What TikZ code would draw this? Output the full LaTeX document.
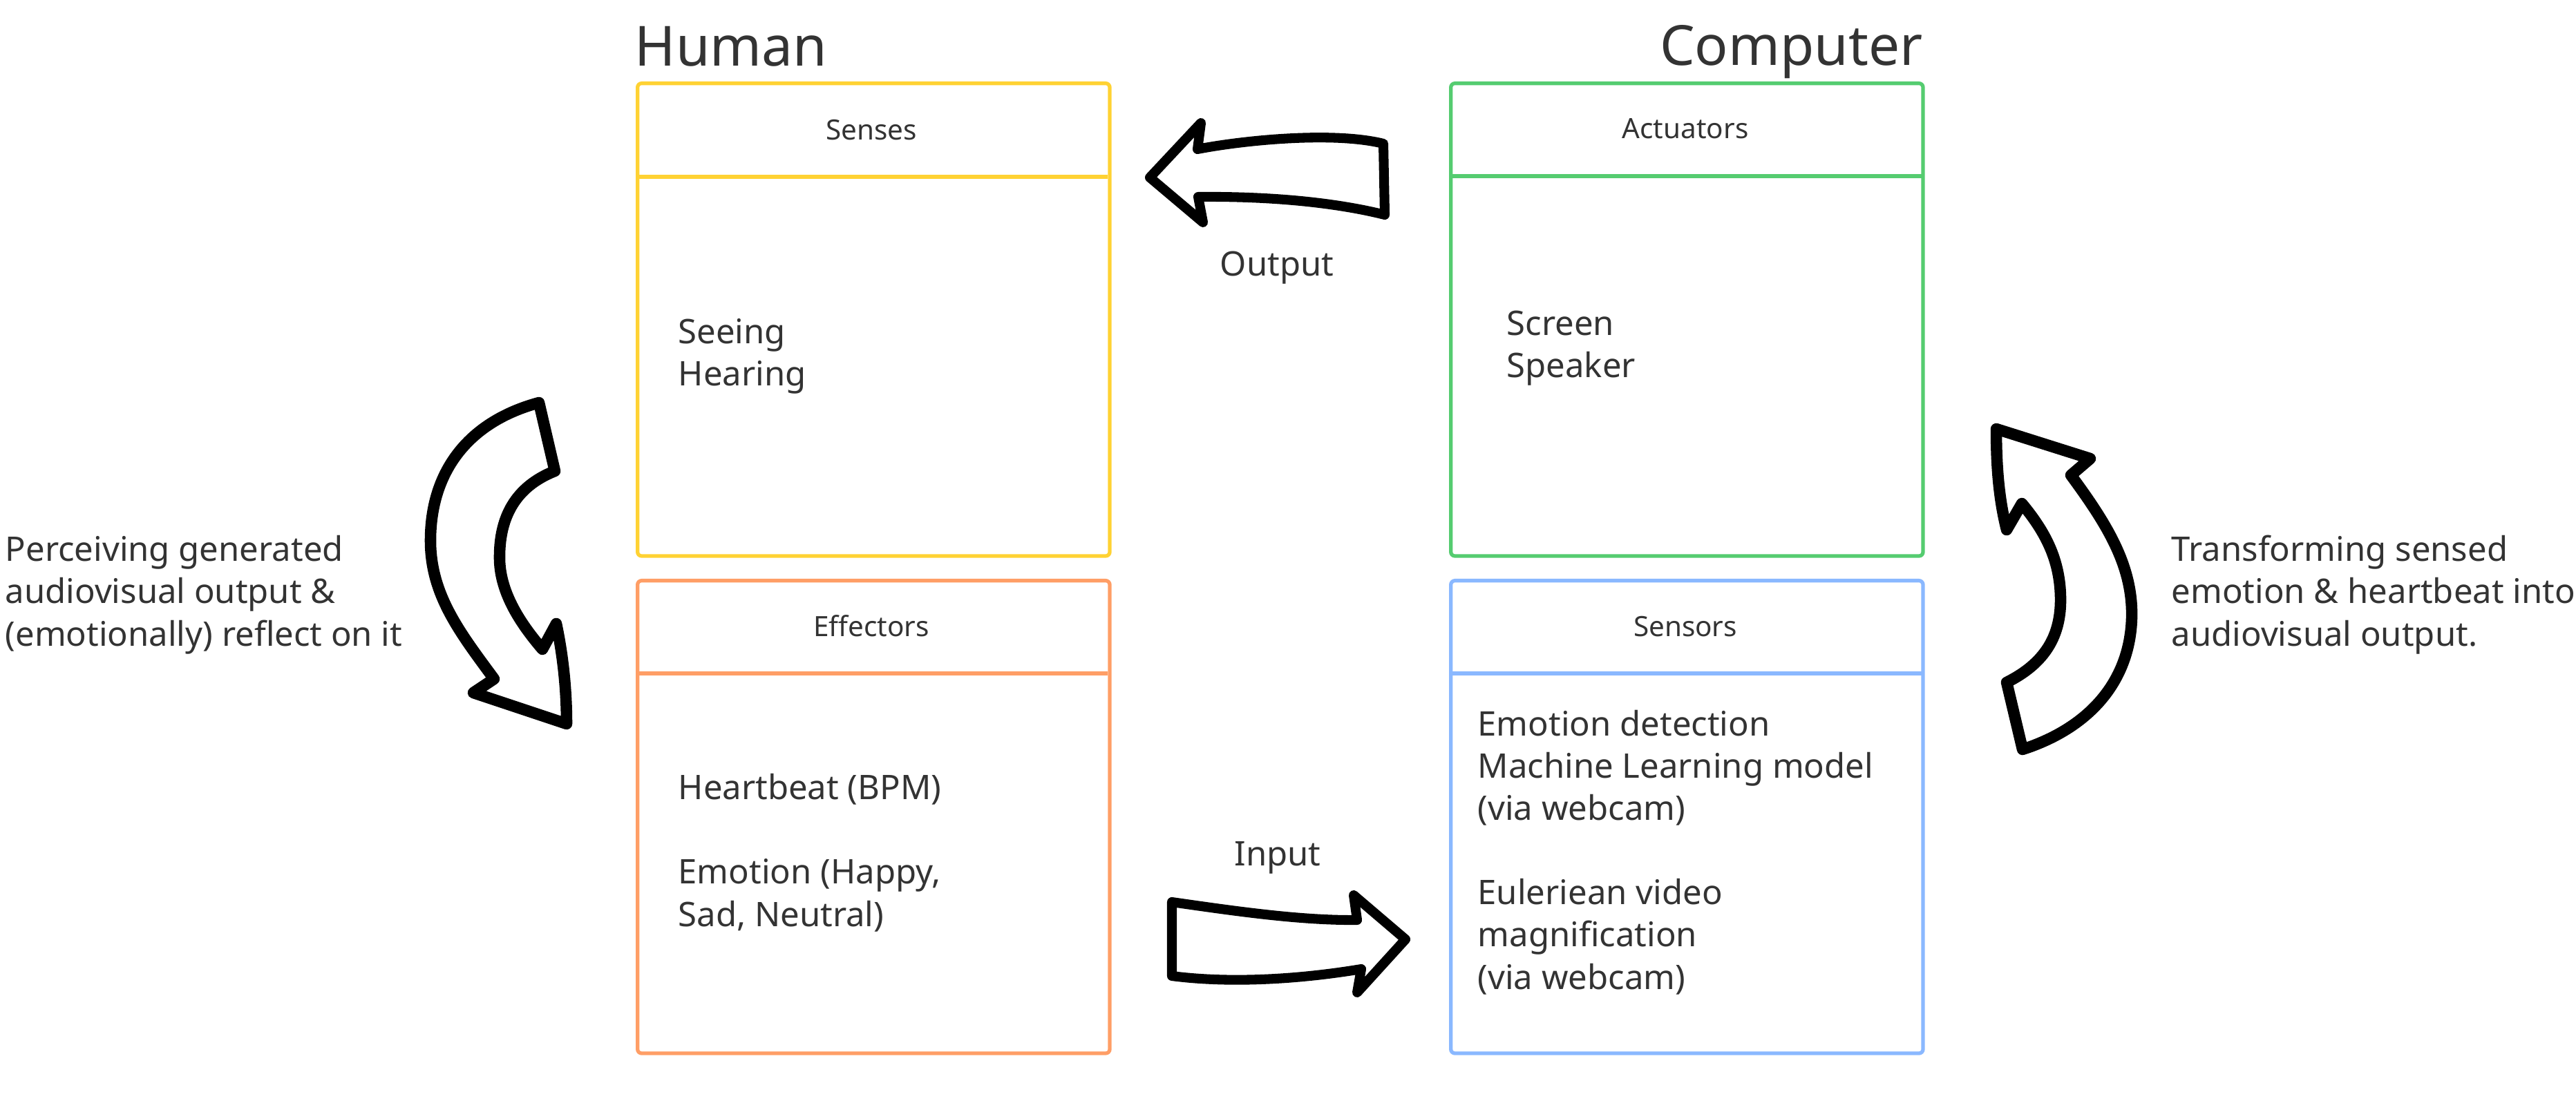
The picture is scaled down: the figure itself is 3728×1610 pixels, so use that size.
\documentclass[tikz,border=0pt]{standalone}
\usepackage{fontspec}
\setmainfont{Noto Sans}
\definecolor{txt}{HTML}{333333}
\definecolor{cyellow}{HTML}{FFD233}
\definecolor{corange}{HTML}{FF9E66}
\definecolor{cgreen}{HTML}{55CC70}
\definecolor{cblue}{HTML}{8AB8FF}
\newcommand{\bodyfs}{\fontsize{13.94pt}{17.36pt}\selectfont}
\newcommand{\headfs}{\fontsize{11.5pt}{14pt}\selectfont}
\newcommand{\titlefs}{\fontsize{22.8pt}{27pt}\selectfont}
\begin{document}
\begin{tikzpicture}[x=0.01cm,y=-0.01cm,
  panel/.style={draw=#1, line width=1.5pt, rounded corners=1.7pt,
    minimum width=6.83cm, minimum height=6.84cm, anchor=north west, inner sep=0pt},
  divider/.style={draw=#1, line width=1.5pt},
  headtxt/.style={anchor=base, inner sep=0pt, text=txt, font=\headfs},
  bodytxt/.style={anchor=base west, inner sep=0pt, text=txt, font=\bodyfs, align=left},
  titletxt/.style={inner sep=0pt, text=txt, font=\titlefs},
  bigarrow/.style={draw=black, fill=white, line width=#1, line join=round},
  bigarrow/.default=4.7pt,
]
\useasboundingbox (0,0) rectangle (3728,1610);

% titles
\node[titletxt, anchor=base west] (human) at (918,96) {Human};
\node[titletxt, anchor=base east] (computer) at (2783,95) {Computer};

% panels
\node[panel=cyellow] (senses) at (920,118) {};
\node[panel=corange] (effectors) at (920,838) {};
\node[panel=cgreen] (actuators) at (2097,118) {};
\node[panel=cblue] (sensors) at (2097,838) {};

\draw[divider=cyellow] (senses.north west) ++(0,138) -- ++(683,0);
\draw[divider=corange] (effectors.north west) ++(0,137) -- ++(683,0);
\draw[divider=cgreen] (actuators.north west) ++(0,137) -- ++(684,0);
\draw[divider=cblue] (sensors.north west) ++(0,137) -- ++(684,0);

% headers
\node[headtxt] (sensesH) at (1261,203) {Senses};
\node[headtxt] (effectorsH) at (1261,921) {Effectors};
\node[headtxt] (actuatorsH) at (2439,201) {Actuators};
\node[headtxt] (sensorsH) at (2439,921) {Sensors};

% bodies (anchored at the baseline of the last line)
\node[bodytxt] (sensesB) at (981,559) {Seeing\\Hearing};
\node[bodytxt] (actuatorsB) at (2180,547) {Screen\\Speaker};
\node[bodytxt] (effectorsB) at (981,1341) {Heartbeat (BPM)\\[17.36pt]Emotion (Happy,\\Sad, Neutral)};
\node[bodytxt] (sensorsB) at (2138,1432) {Emotion detection\\Machine Learning model\\(via webcam)\\[17.36pt]Euleriean video\\magnification\\(via webcam)};

% side texts
\node[bodytxt] (leftT) at (7,935) {Perceiving generated\\audiovisual output \&\\(emotionally) reflect on it};
\node[bodytxt] (rightT) at (3142,935) {Transforming sensed\\emotion \& heartbeat into\\audiovisual output.};

% arrow labels
\node[bodytxt, anchor=base] (outL) at (1848,400) {Output};
\node[bodytxt, anchor=base] (inL) at (1849,1253) {Input};

% Output arrow (right to left)
\draw[bigarrow=4pt] (1664,257) -- (1738,178) -- (1733,216)
  .. controls (1800,203) and (1930,190) .. (2002,208)
  -- (2004,311)
  .. controls (1940,295) and (1850,284) .. (1734,285)
  -- (1741,322) -- cycle;

% Input arrow (left to right)
\draw[bigarrow=4pt] (1696,1306)
  .. controls (1780,1318) and (1880,1333) .. (1964,1332)
  -- (1959,1296) -- (2034,1360) -- (1964,1437) -- (1970,1403)
  .. controls (1880,1418) and (1780,1424) .. (1696,1413) -- cycle;

% Left curved arrow (down)
\draw[bigarrow] (780,583) -- (803,682)
  .. controls (745,705) and (722,750) .. (723,810)
  .. controls (724,860) and (755,905) .. (785,940)
  -- (805,903)
  .. controls (815,950) and (820,1000) .. (820,1048)
  -- (685,1003) -- (715,983)
  .. controls (665,915) and (622,860) .. (623,780)
  .. controls (624,680) and (680,610) .. (780,583) -- cycle;

% Right curved arrow (up)
\draw[bigarrow] (2889,621) -- (3025,664) -- (2997,688)
  .. controls (3050,760) and (3087,820) .. (3085,895)
  .. controls (3082,990) and (3020,1055) .. (2927,1085)
  -- (2904,988)
  .. controls (2960,960) and (2983,920) .. (2982,865)
  .. controls (2981,810) and (2960,770) .. (2926,729)
  -- (2904,767)
  .. controls (2892,720) and (2889,670) .. (2889,621) -- cycle;
\end{tikzpicture}
\end{document}
